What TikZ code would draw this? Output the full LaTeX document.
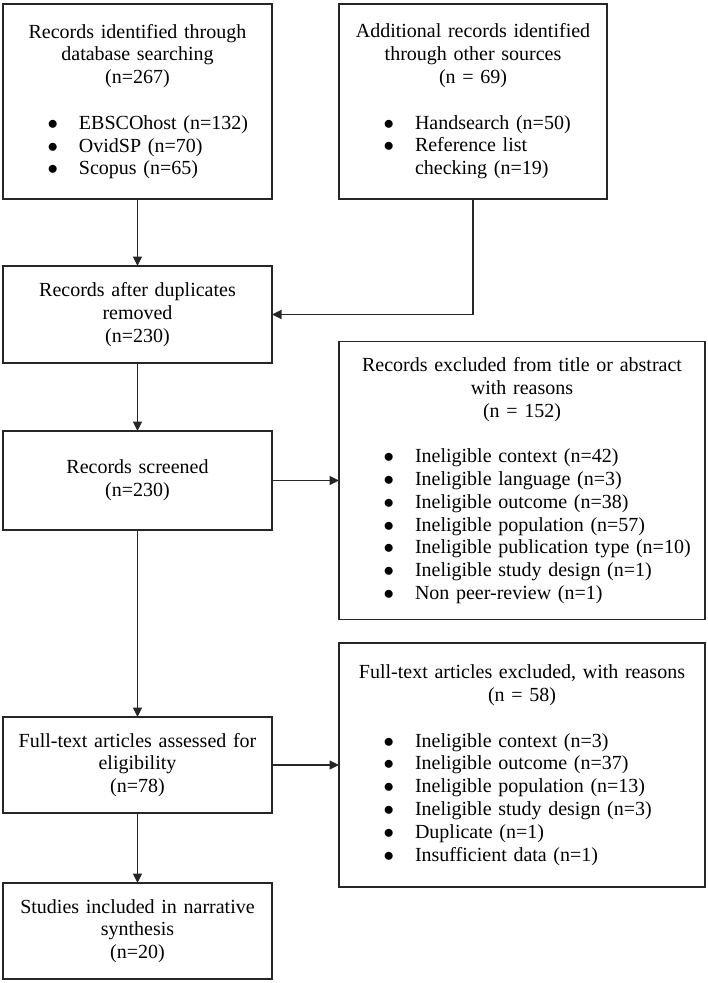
\documentclass[tikz,border=0pt]{standalone}
\usepackage{fontspec}
\setmainfont{Liberation Serif}
\usetikzlibrary{positioning}
\usetikzlibrary{arrows.meta}

\newcommand{\bpoint}[1]{\makebox[\hsize][l]{\hspace*{44.5pt}\makebox[31.5pt][l]{$\bullet$}#1}}
\newcommand{\bmore}[1]{\makebox[\hsize][l]{\hspace*{76pt}#1}}

\begin{document}
\begin{tikzpicture}[->,>={Triangle[length=9.5pt,width=9pt]},line width=1.1pt,
  main node/.style={draw=black!85,rectangle,inner xsep=0pt,inner ysep=0pt,outer sep=0pt,
    align=center,text width=269pt,minimum width=269pt,font=\fontsize{20pt}{22.8pt}\selectfont},
  wide node/.style={main node,text width=366pt,minimum width=366pt}]

  \useasboundingbox (0,0) rectangle (708pt,-983pt);

  \node[main node,minimum height=195pt,anchor=north west] (1) at (3pt,-4pt)
    {Records identified through\\ database searching\\ (n=267)\\[22.8pt]
     \bpoint{EBSCOhost (n=132)}\\ \bpoint{OvidSP (n=70)}\\ \bpoint{Scopus (n=65)}};
  \node[main node,text width=268pt,minimum width=268pt,minimum height=195pt] (2) [right=67pt of 1]
    {Additional records identified\\ through other sources\\ (n = 69)\\[22.8pt]
     \bpoint{Handsearch (n=50)}\\ \bpoint{Reference list}\\ \bmore{checking (n=19)}};
  \node[main node,minimum height=97pt] (3) [below=67pt of 1]
    {Records after duplicates\\ removed\\ (n=230)};
  \node[main node,minimum height=99pt] (4) [below=68pt of 3]
    {Records screened\\ (n=230)};
  \node[wide node,minimum height=278pt] (5) [right=67pt of 4]
    {Records excluded from title or abstract\\ with reasons\\ (n = 152)\\[22.8pt]
     \bpoint{Ineligible context (n=42)}\\ \bpoint{Ineligible language (n=3)}\\
     \bpoint{Ineligible outcome (n=38)}\\ \bpoint{Ineligible population (n=57)}\\
     \bpoint{Ineligible publication type (n=10)}\\ \bpoint{Ineligible study design (n=1)}\\
     \bpoint{Non peer-review (n=1)}};
  \node[main node,minimum height=96pt] (6) [below=187pt of 4]
    {Full-text articles assessed for\\ eligibility\\ (n=78)};
  \node[wide node,minimum height=244pt] (7) [right=67pt of 6]
    {Full-text articles excluded, with reasons\\ (n = 58)\\[22.8pt]
     \bpoint{Ineligible context (n=3)}\\ \bpoint{Ineligible outcome (n=37)}\\
     \bpoint{Ineligible population (n=13)}\\ \bpoint{Ineligible study design (n=3)}\\
     \bpoint{Duplicate (n=1)}\\ \bpoint{Insufficient data (n=1)}};
  \node[main node,minimum height=96pt] (8) [below=70pt of 6]
    {Studies included in narrative\\ synthesis\\ (n=20)};

  \path[every edge/.style={draw=black!85}]
    (1) edge (3)
    (2.south) edge [to path={|- (\tikztotarget)}] (3.east)
    (3) edge (4)
    (4) edge (5)
    (4) edge (6)
    (6) edge (7)
    (6) edge (8);
\end{tikzpicture}
\end{document}
